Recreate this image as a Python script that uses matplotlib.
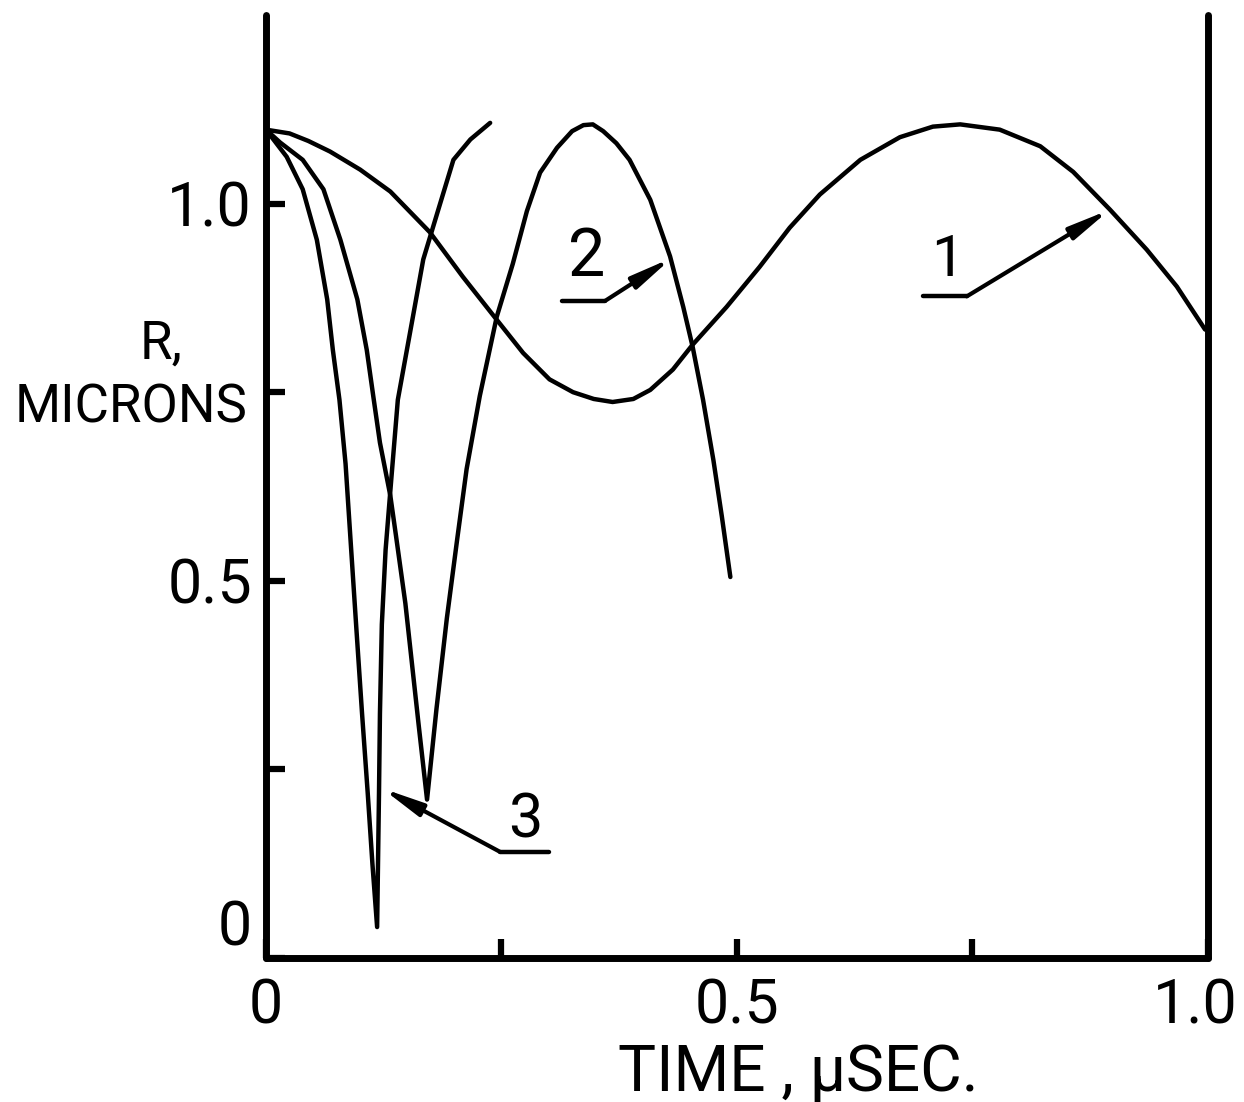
import matplotlib.pyplot as plt
import matplotlib.transforms as mtransforms

# Curve 1 (longest period)
t1 = [0.0, 0.025, 0.045, 0.068, 0.100, 0.132, 0.174, 0.209, 0.245, 0.273, 0.301,
      0.326, 0.348, 0.368, 0.390, 0.408, 0.432, 0.453, 0.489, 0.524, 0.556, 0.588,
      0.631, 0.673, 0.708, 0.737, 0.779, 0.822, 0.857, 0.896, 0.935, 0.967, 0.997]
r1 = [1.098, 1.093, 1.083, 1.069, 1.045, 1.016, 0.962, 0.903, 0.846, 0.802, 0.767,
      0.750, 0.741, 0.737, 0.741, 0.753, 0.780, 0.813, 0.863, 0.916, 0.968, 1.012,
      1.058, 1.088, 1.102, 1.105, 1.098, 1.076, 1.042, 0.992, 0.939, 0.890, 0.833]

# Curve 2
t2 = [0.0, 0.015, 0.039, 0.061, 0.079, 0.097, 0.107, 0.114, 0.121, 0.132, 0.138,
      0.148, 0.155, 0.162, 0.171, 0.181, 0.192, 0.203, 0.213, 0.227, 0.245, 0.262,
      0.277, 0.291, 0.309, 0.325, 0.337, 0.347, 0.358, 0.372, 0.386, 0.408, 0.429,
      0.443, 0.453, 0.464, 0.475, 0.484, 0.493]
r2 = [1.098, 1.081, 1.058, 1.019, 0.952, 0.873, 0.806, 0.744, 0.683, 0.613, 0.560,
      0.470, 0.390, 0.310, 0.210, 0.330, 0.450, 0.555, 0.648, 0.745, 0.850, 0.920,
      0.990, 1.041, 1.074, 1.096, 1.104, 1.105, 1.096, 1.080, 1.058, 1.005, 0.930,
      0.863, 0.810, 0.740, 0.660, 0.585, 0.505]

# Curve 3
t3 = [0.0, 0.022, 0.039, 0.054, 0.065, 0.071, 0.078, 0.0845, 0.090, 0.096, 0.102,
      0.108, 0.113, 0.118, 0.119, 0.120, 0.121, 0.123, 0.127, 0.133, 0.140, 0.156,
      0.167, 0.182, 0.199, 0.217, 0.238]
r3 = [1.098, 1.062, 1.019, 0.952, 0.873, 0.806, 0.740, 0.655, 0.550, 0.436, 0.324,
      0.219, 0.125, 0.041, 0.130, 0.219, 0.324, 0.442, 0.541, 0.634, 0.740, 0.850,
      0.926, 0.988, 1.058, 1.085, 1.107]

x_ticks = [0, 0.25, 0.5, 0.75, 1.0]
x_labels = ["0", "", "0.5", "", "1.0"]
y_ticks = [0, 0.25, 0.5, 0.75, 1.0]
y_labels = ["0", "", "0.5", "", "1.0"]

plt.rcParams['font.family'] = ["Roboto", "DejaVu Sans"]

fig = plt.figure(figsize=(12.44, 11.02), dpi=100)
ax = fig.add_axes([0.2138, 0.1307, 0.7572, 0.8557])

line_kw = dict(color="black", linewidth=3.2, solid_capstyle="round", solid_joinstyle="round")
ax.plot(t1, r1, **line_kw)
ax.plot(t2, r2, **line_kw)
ax.plot(t3, r3, **line_kw)

ax.set_xlim(0, 1.0)
ax.set_ylim(0, 1.25)

ax.spines["top"].set_visible(False)
for s in ["left", "right", "bottom"]:
    ax.spines[s].set_linewidth(5)
    ax.spines[s].set_capstyle("round")

ax.set_xticks(x_ticks)
ax.set_xticklabels(x_labels)
ax.set_yticks(y_ticks)
ax.set_yticklabels(y_labels)
ax.tick_params(direction="in", length=14, width=4.5, labelsize=44)
ax.tick_params(axis="x", pad=14)
ax.tick_params(axis="y", pad=10)

ax.get_yticklabels()[0].set_va("bottom")
# nudge the last x label so it stays inside the figure
last = ax.get_xticklabels()[-1]
last.set_transform(last.get_transform() +
                   mtransforms.ScaledTranslation(-9 / 72, 0, fig.dpi_scale_trans))

# axis labels
ax.text(0.565, -0.122, "TIME , μSEC.", transform=ax.transAxes, ha="center",
        va="center", fontsize=46)
fig.text(0.1125, 0.675, "R,", ha="left", va="baseline", fontsize=38)
fig.text(0.012, 0.617, "MICRONS", ha="left", va="baseline", fontsize=38)

# curve labels with leader arrows
arrow_kw = dict(arrowstyle="-|>,head_length=1.1,head_width=0.18", color="black",
                linewidth=3, mutation_scale=22, shrinkA=0, shrinkB=0)

ax.plot([0.697, 0.744], [0.877, 0.877], color="black", linewidth=3.2, solid_capstyle="round")
ax.annotate("", xy=(0.896, 0.992), xytext=(0.744, 0.877), arrowprops=arrow_kw)
ax.text(0.724, 0.925, "1", ha="center", va="center", fontsize=42)

ax.plot([0.314, 0.360], [0.871, 0.871], color="black", linewidth=3.2, solid_capstyle="round")
ax.annotate("", xy=(0.431, 0.928), xytext=(0.360, 0.871), arrowprops=arrow_kw)
ax.text(0.341, 0.928, "2", ha="center", va="center", fontsize=48)

ax.plot([0.248, 0.301], [0.141, 0.141], color="black", linewidth=3.2, solid_capstyle="round")
ax.annotate("", xy=(0.123, 0.225), xytext=(0.248, 0.141), arrowprops=arrow_kw)
ax.text(0.275, 0.182, "3", ha="center", va="center", fontsize=44)

fig.savefig("out.png", dpi=100)
